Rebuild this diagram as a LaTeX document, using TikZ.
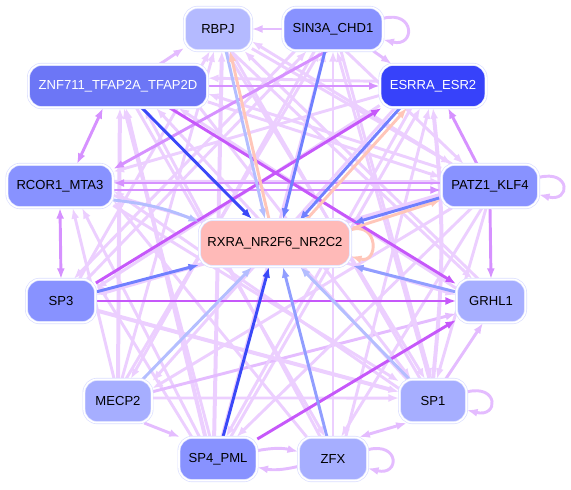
\documentclass[tikz,border=0pt]{standalone}
\usepackage{fontspec}
\setmainfont{Liberation Sans}
\usetikzlibrary{arrows.meta,calc}
\pgfdeclarelayer{edges}
\pgfsetlayers{edges,main}
\definecolor{cLt}{RGB}{236,207,255}
\definecolor{cLt2}{RGB}{228,188,255}
\definecolor{cMd}{RGB}{214,145,255}
\definecolor{cSt}{RGB}{198,88,250}
\definecolor{cB1}{RGB}{58,72,248}
\definecolor{cB2}{RGB}{112,128,255}
\definecolor{cB3}{RGB}{145,158,255}
\definecolor{cB4}{RGB}{180,190,255}
\definecolor{cPe}{RGB}{255,198,185}
\definecolor{cBd}{RGB}{218,222,255}
\definecolor{fA}{RGB}{136,146,255}
\definecolor{fB}{RGB}{166,174,255}
\definecolor{fC}{RGB}{180,186,255}
\definecolor{fZ}{RGB}{108,118,246}
\definecolor{fE}{RGB}{55,66,250}
\definecolor{fR}{RGB}{255,186,184}
\begin{document}
\begin{tikzpicture}[x=0.75pt,y=-0.75pt,
  nd/.style={rounded corners=10pt, draw=cBd, double=white, double distance=1.2pt,
    line width=0.5pt, minimum height=32.5pt, inner sep=0pt,
    font=\fontsize{9.8}{12}\selectfont},
  ar/.style={line width=2.2pt, -{Latex[length=8pt,width=6pt]}},
  dar/.style={line width=2.2pt, {Latex[length=8pt,width=6pt]}-{Latex[length=8pt,width=6pt]}},
  lt/.style={ar, draw=cLt},
  ltw/.style={ar, draw=cLt, line width=3pt},
  lt2/.style={ar, draw=cLt2},
  md/.style={ar, draw=cMd},
  mdd/.style={dar, draw=cMd},
  ltd/.style={dar, draw=cLt2},
  st/.style={ar, draw=cSt},
  b1/.style={ar, draw=cB1},
  b2/.style={ar, draw=cB2},
  b3/.style={ar, draw=cB3},
  b4/.style={ar, draw=cB4},
  pe/.style={ar, draw=cPe},
]
\useasboundingbox (0,0) rectangle (571,489);

% nodes
\node[nd, fill=fC, minimum width=50.3pt] (rbpj) at (218,29) {RBPJ};
\node[nd, fill=fA, minimum width=75pt] (sin) at (333,29) {SIN3A\_CHD1};
\node[nd, fill=fZ, text=white, minimum width=134.3pt] (znf) at (118,86) {ZNF711\_TFAP2A\_TFAP2D};
\node[nd, fill=fE, text=white, minimum width=79.5pt] (esr) at (433,86) {ESRRA\_ESR2};
\node[nd, fill=fA, minimum width=79.5pt] (rcor) at (60,186) {RCOR1\_MTA3};
\node[nd, fill=fA, minimum width=72.8pt] (patz) at (490,186) {PATZ1\_KLF4};
\node[nd, fill=fR, minimum width=113.3pt, minimum height=35.3pt] (rxra) at (275,243) {RXRA\_NR2F6\_NR2C2};
\node[nd, fill=fA, minimum width=51.8pt] (sp3) at (61,301) {SP3};
\node[nd, fill=fB, minimum width=51.8pt] (grhl) at (491,301) {GRHL1};
\node[nd, fill=fB, minimum width=51pt] (mecp) at (118,401) {MECP2};
\node[nd, fill=fB, minimum width=50.3pt] (sp1) at (433,401) {SP1};
\node[nd, fill=fA, minimum width=58.5pt] (sp4) at (218,459) {SP4\_PML};
\node[nd, fill=fB, minimum width=51.8pt] (zfx) at (333,459) {ZFX};

\begin{pgfonlayer}{edges}
% light edges
\draw[ltw] (sp4.100) -- (rbpj.-80);
\draw[lt] (sp4.110) -- (znf.-75);
\draw[ltw] (sp4.120) -- (znf.-70);
\draw[lt] (sp4.130) -- (rcor.-45);
\draw[lt] (sp4.140) -- (sp3.30);
\draw[lt] (sp4.80) -- (sin.-110);
\draw[lt] (sp4.60) -- (esr.-120);
\draw[ltw] (mecp.90) -- (znf.-85);
\draw[lt] (mecp.100) -- (rcor.-60);
\draw[lt] (mecp.70) -- (sin.-120);
\draw[lt] (mecp.80) -- (rbpj.-100);
\draw[lt] (mecp.5) -- (sp1.175);
\draw[lt2] (mecp.15) -- (grhl.-160);
\draw[lt] (sp3.40) -- (sin.-140);
\draw[lt] (sp3.50) -- (rbpj.-110);
\draw[ltw] (sp3.-15) -- (sp1.165);
\draw[lt] (rcor.-20) -- (sp1.150);
\draw[lt] (rcor.-10) -- (grhl.170);
\draw[ltw] (sp1.90) to[bend right=6] (esr.-90);
\draw[lt] (sp1.100) -- (sin.-80);
\draw[lt] (sp1.120) -- (rbpj.-60);
\draw[lt] (sp1.140) -- (znf.-30);
\draw[lt] (sp1.160) -- (rcor.-5);
\draw[lt] (zfx.60) -- (esr.-100);
\draw[lt] (zfx.90) -- (sin.-90);
\draw[lt] (zfx.120) -- (znf.-40);
\draw[lt] (zfx.140) -- (rcor.-15);
\draw[lt] (grhl.160) -- (znf.-20);
\draw[lt] (grhl.120) -- (rbpj.-40);
\draw[ltw] (patz.-170) -- (sp3.10);
\draw[lt] (patz.-150) -- (mecp.20);
\draw[lt] (patz.-130) -- (sp4.50);
\draw[lt] (patz.160) -- (znf.-5);
\draw[lt] (patz.150) -- (rbpj.-20);
\draw[lt] (patz.-110) -- (zfx.70);
\draw[lt] (patz.-100) -- (sp1.80);
\draw[lt] (sin.-150) -- (sp3.60);
\draw[lt] (sin.-130) -- (mecp.60);
\draw[lt] (sin.-60) -- (patz.140);
\draw[lt] (sin.-70) -- (sp1.95);
\draw[lt] (esr.-150) -- (mecp.30);
\draw[lt] (esr.-160) -- (sp3.20);
\draw[lt] (esr.175) -- (znf.5);
\draw[lt] (esr.-170) -- (rcor.15);
\draw[lt] (esr.-135) -- (sp4.70);
\draw[lt] (rbpj.-30) -- (patz.150);
\draw[lt] (rbpj.-60) -- (grhl.130);
\draw[lt] (rbpj.-70) -- (sp1.110);
\draw[lt] (znf.-15) -- (sp1.135);
\draw[lt] (znf.-50) -- (zfx.110);
\draw[lt] (znf.-10) -- (patz.170);
\draw[lt] (rcor.5) -- (patz.175);

% short light edges near nodes
\draw[lt2] ($(znf.north)+(42,0)$) -- ($(rbpj.south west)+(0,-3)$);
\draw[lt2] (sin.west) -- (rbpj.east);
\draw[lt2] ($(sin.south east)+(-10,0)$) -- ($(esr.north west)+(12,0)$);
\draw[lt2] (mecp.-40) -- (sp4.150);
\draw[lt2] (sp4.12) to[bend left=12] (zfx.168);
\draw[lt2] (zfx.192) to[bend left=12] (sp4.-12);
\draw[ltd] (zfx.40) -- (sp1.-140);
\draw[lt2] (sp1.60) -- (grhl.-110);

% self loops
\draw[lt2] (sin.12) .. controls +(32,-8) and +(32,8) .. (sin.-12);
\draw[lt2] (patz.10) .. controls +(32,-8) and +(32,8) .. (patz.-10);
\draw[lt2] (sp1.15) .. controls +(32,-8) and +(32,8) .. (sp1.-15);
\draw[lt2] (zfx.15) .. controls +(32,-8) and +(32,8) .. (zfx.-15);
\draw[pe] (rxra.10) .. controls +(28,-8) and +(28,8) .. (rxra.-10);

% medium purple
\draw[mdd] ($(znf.south)+(-15,0)$) -- ($(rcor.north)+(17,0)$);
\draw[mdd] (rcor.south) -- (sp3.north);
\draw[md] ($(patz.north)+(-13,0)$) -- ($(esr.south)+(15,0)$);
\draw[md] (patz.south) -- (grhl.north);
\draw[md] ($(rcor.east)+(0,4)$) -- ($(patz.west)+(0,4)$);
\draw[md] ($(patz.west)+(0,-3)$) -- ($(rcor.east)+(0,-3)$);
\draw[md] (znf.east) -- (esr.west);
\draw[md] ($(sin.south)+(-6,0)$) -- ($(rcor.north east)+(0,5)$);
\draw[st] ($(sp3.north east)+(0,4)$) -- ($(esr.south west)+(2,0)$);

% strong purple
\draw[st] ($(znf.south)+(52,0)$) -- ($(grhl.north west)+(0,5)$);
\draw[st] (sp3.east) -- (grhl.west);
\draw[st] ($(sp4.north east)+(0,2)$) -- ($(grhl.south west)+(0,-3)$);

% blue / peach edges to and from RXRA
\draw[b4] ($(rbpj.south)+(8,0)$) -- ($(rxra.north)+(-10,0)$);
\draw[pe] ($(rxra.north)+(-6,0)$) -- ($(rbpj.south)+(12,0)$);
\draw[b1] ($(znf.south)+(24,0)$) -- ($(rxra.north)+(-23,0)$);
\draw[b2] ($(sin.south)+(-8,0)$) -- ($(rxra.north)+(8,0)$);
\draw[pe] ($(rxra.north east)+(-44,0)$) -- ($(esr.south)+(-26,0)$);
\draw[b2] ($(esr.south)+(-33,0)$) -- ($(rxra.north east)+(-52,2)$);
\draw[pe] ($(rxra.north east)+(2,9)$) -- ($(patz.south west)+(0,-8)$);
\draw[b2] ($(patz.south west)+(-2,-10)$) -- ($(rxra.north east)+(2,4)$);
\draw[b3] ($(grhl.west)+(0,-9)$) -- ($(rxra.south east)+(2,-1)$);
\draw[b4] ($(sp1.north west)+(10,0)$) -- ($(rxra.south)+(25,0)$);
\draw[b3] ($(zfx.north)+(-6,0)$) -- ($(rxra.south)+(8,0)$);
\draw[b1] ($(sp4.north)+(5,0)$) -- ($(rxra.south)+(-6,0)$);
\draw[b4] ($(mecp.north)+(25,0)$) -- ($(rxra.south)+(-23,0)$);
\draw[b2] ($(sp3.east)+(0,-9)$) -- ($(rxra.south west)+(0,-2)$);
\draw[b4] ($(rcor.east)+(0,14)$) to[bend left=8] ($(rxra.west)+(0,-21)$);
\end{pgfonlayer}
\end{tikzpicture}
\end{document}
